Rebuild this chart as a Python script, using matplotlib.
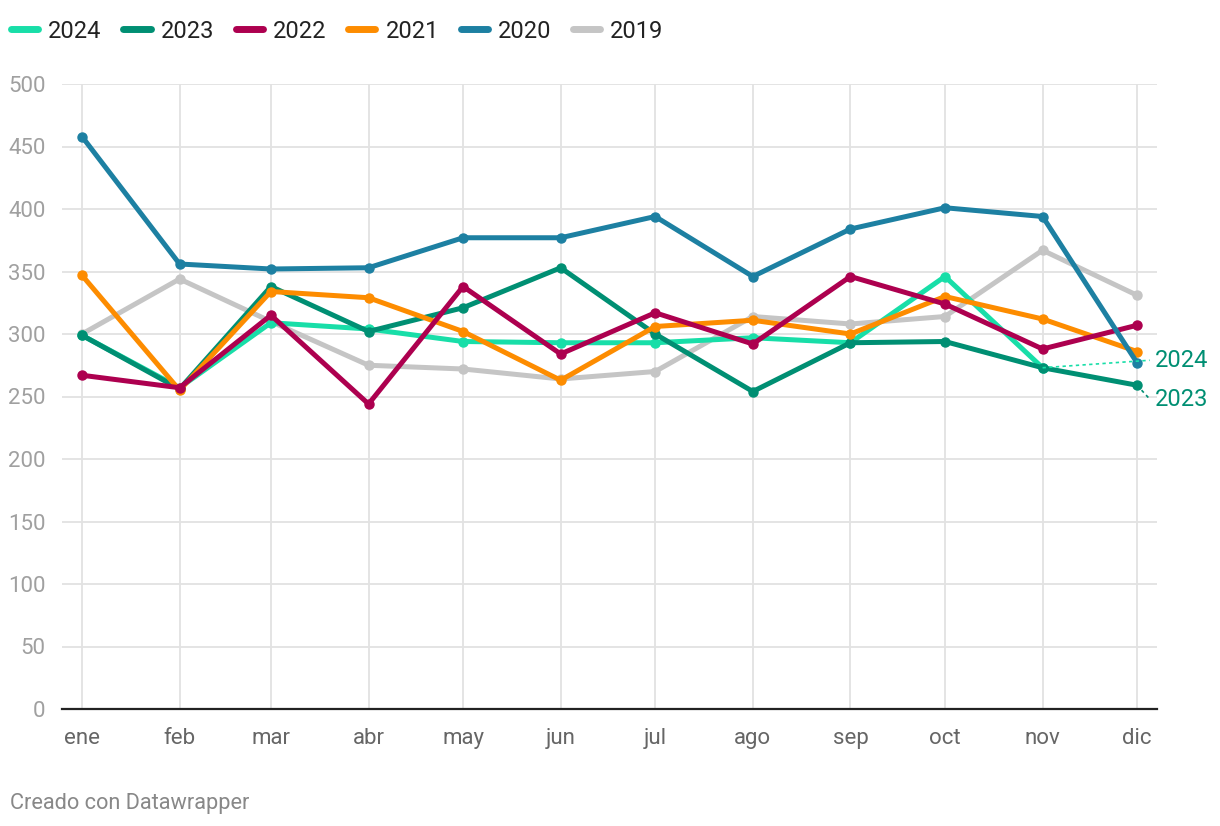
import matplotlib.pyplot as plt
from matplotlib.lines import Line2D

# mes y dia del año (2024, bisiesto) en que empieza cada mes
meses = ['ene', 'feb', 'mar', 'abr', 'may', 'jun', 'jul', 'ago', 'sep', 'oct', 'nov', 'dic']
dias = [0, 31, 60, 91, 121, 152, 182, 213, 244, 274, 305, 335]

v2024 = [299, 257, 309, 304, 294, 293, 293, 297, 293, 346, 273]
v2023 = [299, 256, 338, 302, 321, 353, 300, 254, 293, 294, 273, 259]
v2022 = [267, 257, 315, 244, 338, 284, 317, 292, 346, 324, 288, 307]
v2021 = [347, 255, 334, 329, 302, 263, 306, 311, 300, 330, 312, 286]
v2020 = [458, 356, 352, 353, 377, 377, 394, 346, 384, 401, 394, 277]
v2019 = [300, 344, 310, 275, 272, 264, 270, 314, 308, 314, 367, 331]

series = [
    ('2024', v2024, '#18dea8', 2),
    ('2023', v2023, '#008f73', 3),
    ('2022', v2022, '#ad004f', 5),
    ('2021', v2021, '#fd8c00', 4),
    ('2020', v2020, '#1d80a2', 6),
    ('2019', v2019, '#c5c5c5', 1),
]

plt.rcParams['font.family'] = ['Roboto', 'DejaVu Sans']

fig = plt.figure(figsize=(12.2, 8.26), dpi=100)
ax = fig.add_axes([62 / 1220, 1 - 709 / 826, 1095 / 1220, 625 / 826])

for nombre, valores, color, z in series:
    ax.plot(dias[:len(valores)], valores, color=color, lw=3.6, marker='o', ms=6.5,
            solid_capstyle='round', solid_joinstyle='round', zorder=z)

# etiquetas al final de 2024 y 2023
lab_x = 340.5
ax.plot([dias[10], lab_x - 1.5], [v2024[-1], 279], ls=(0, (2, 2)), lw=1.2, color='#18dea8', zorder=7,
        clip_on=False)
ax.plot([dias[11], lab_x - 1.5], [v2023[-1], 248], ls=(0, (2, 2)), lw=1.2, color='#008f73', zorder=7,
        clip_on=False)
ax.text(lab_x, 279, '2024', color='#008f73', fontsize=17, va='center', ha='left')
ax.text(lab_x, 248, '2023', color='#008f73', fontsize=17, va='center', ha='left')

ax.set_xlim(-20 / 3.159, 335 + 20 / 3.159)
ax.set_ylim(0, 500)
ax.set_xticks(dias)
ax.set_xticklabels(meses)
ax.set_yticks(range(0, 501, 50))
ax.grid(True, color='#e2e2e2', lw=1.3)
ax.set_axisbelow(True)
for s in ['top', 'right', 'left']:
    ax.spines[s].set_visible(False)
ax.spines['bottom'].set_color('#222222')
ax.spines['bottom'].set_linewidth(1.6)
ax.tick_params(axis='both', length=0, labelsize=16)
ax.tick_params(axis='y', colors='#a0a0a0', pad=12)
ax.tick_params(axis='x', colors='#666666', pad=14)

handles = [Line2D([0], [0], color=c, lw=5, solid_capstyle='round') for _, _, c, _ in series]
fig.legend(handles, [n for n, _, _, _ in series], loc='center left',
           bbox_to_anchor=(11 / 1220, 1 - 31 / 826), borderaxespad=0, borderpad=0,
           ncol=6, frameon=False, fontsize=17, handlelength=1.15, handletextpad=0.42,
           columnspacing=0.93, labelcolor='#222222')

fig.text(10 / 1220, 1 - 803 / 826, 'Creado con Datawrapper', fontsize=15.7, color='#888888', va='center')

fig.savefig('out.png', dpi=100)
